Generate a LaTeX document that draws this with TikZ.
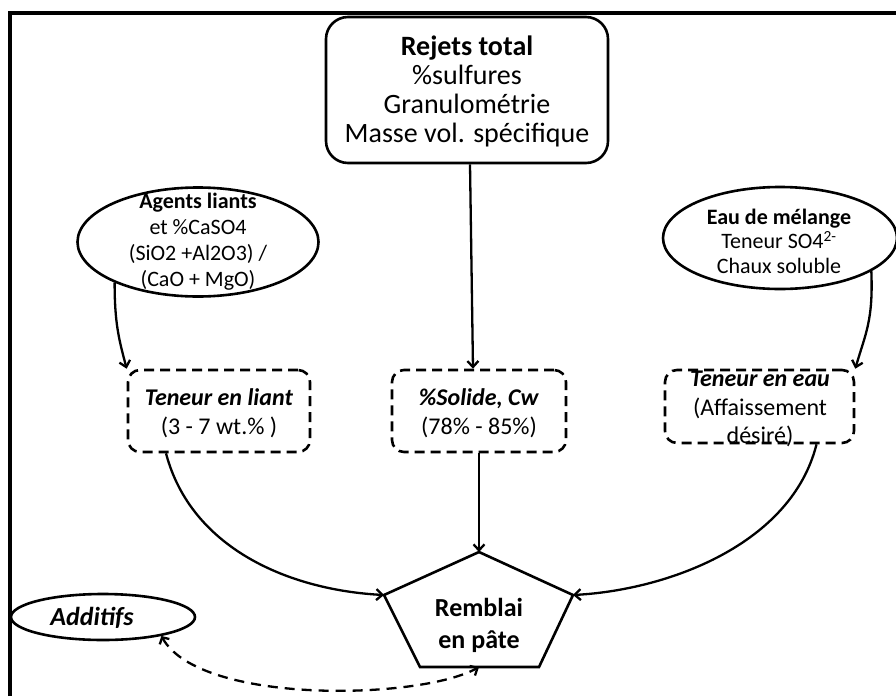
\documentclass[tikz,border=0pt]{standalone}
\usepackage{fontspec}
\setmainfont{Carlito}
\usetikzlibrary{shapes.geometric,arrows.meta}
\tikzset{
  frameline/.style={line width=3.5pt},
  solidline/.style={line width=2.6pt},
  conn/.style={line width=2.3pt, -{Straight Barb[length=6pt,width=11pt]}},
  dconn/.style={line width=2.3pt, dash pattern=on 10pt off 7pt, {Straight Barb[length=5pt,width=11pt]}-{Straight Barb[length=6pt,width=11pt]}},
  dbox/.style={draw, dash pattern=on 10pt off 6pt, line width=2.6pt, rounded corners=12pt, inner sep=0pt},
  ell/.style={draw, ellipse, line width=2.6pt, inner sep=0pt},
  txt/.style={align=center, inner sep=0pt},
}
\begin{document}
\begin{tikzpicture}[x=1pt,y=-1pt]
\useasboundingbox (0,0) rectangle (896,696);
% frame
\draw[frameline] (10,696) -- (10,13) -- (896,13);

% top box
\node[draw, solidline, rounded corners=22pt, minimum width=282pt, minimum height=146pt, inner sep=0pt] (rejets) at (467,90) {};
\node[txt, font=\fontsize{28}{29}\selectfont] (rejetsT) at (467,91)
  {\textbf{Rejets total}\\ \%sulfures\\ Granulométrie\\ Masse vol. spécifique};

% ellipses
\node[ell, minimum width=241pt, minimum height=109pt] (agents) at (198,242) {};
\node[txt, font=\fontsize{22}{26}\selectfont] (agentsT) at (198,242)
  {\textbf{Agents liants}\\ et \%CaSO4\\ (SiO2 +Al2O3) /\\ (CaO + MgO)};

\node[ell, minimum width=234pt, minimum height=102pt] (eau) at (780,238) {};
\node[txt, font=\fontsize{22}{24.5}\selectfont] (eauT) at (779,241)
  {\textbf{Eau de mélange}\\ Teneur SO4\textsuperscript{2-}\\ Chaux soluble};

% dashed boxes
\node[dbox, minimum width=182pt, minimum height=82pt] (liant) at (219,411) {};
\node[txt, font=\fontsize{24}{29}\selectfont] (liantT) at (219,413)
  {\textbf{\textit{Teneur en liant}}\\ (3 - 7 wt.\% )};

\node[dbox, minimum width=174pt, minimum height=82pt] (solide) at (479,411) {};
\node[txt, font=\fontsize{24}{29}\selectfont] (solideT) at (479,413)
  {\textbf{\textit{\%Solide, Cw}}\\ (78\% - 85\%)};

\node[dbox, minimum width=189pt, minimum height=73pt] (eaubox) at (759.5,406.5) {};
\node[txt, font=\fontsize{24}{28.5}\selectfont] (eauboxT) at (760,409)
  {\textbf{\textit{Teneur en eau}}\\ (Affaissement\\ désiré)};

% pentagon
\coordinate (p1) at (479,552);
\coordinate (p2) at (384,595);
\coordinate (p3) at (573,595);
\coordinate (p4) at (420,667);
\coordinate (p5) at (539,667);
\coordinate (pb) at (479,667);
\draw[solidline] (p1) -- (p2) -- (p4) -- (p5) -- (p3) -- cycle;
\node[txt, font=\fontsize{26}{32}\selectfont\bfseries] (remblai) at (479,625) {Remblai\\ en pâte};

% additifs
\node[ell, minimum width=184pt, minimum height=46pt] (additifs) at (103,617) {};
\node[txt, font=\fontsize{26}{30}\selectfont\bfseries\itshape] (additifsT) at (92,618) {Additifs};

% connectors
\draw[conn] (agents.206) .. controls +(0,40) and +(-8,-30) .. (liant.north west);
\draw[conn] (eau.-20) .. controls +(2,50) and +(10,-35) .. (eaubox.north east);
\draw[conn] ([xshift=3pt]rejets.south) -- ([xshift=-6pt]solide.north);
\draw[conn] ([xshift=-53pt]liant.south) .. controls +(25,95) and +(-95,-5) .. (p2);
\draw[conn] ([xshift=57pt]eaubox.south) .. controls +(-25,100) and +(95,-5) .. (p3);
\draw[conn] (solide.south) -- (p1);
\draw[dconn] (additifs.-18) .. controls (200,705) and (420,700) .. (pb);
\end{tikzpicture}
\end{document}
